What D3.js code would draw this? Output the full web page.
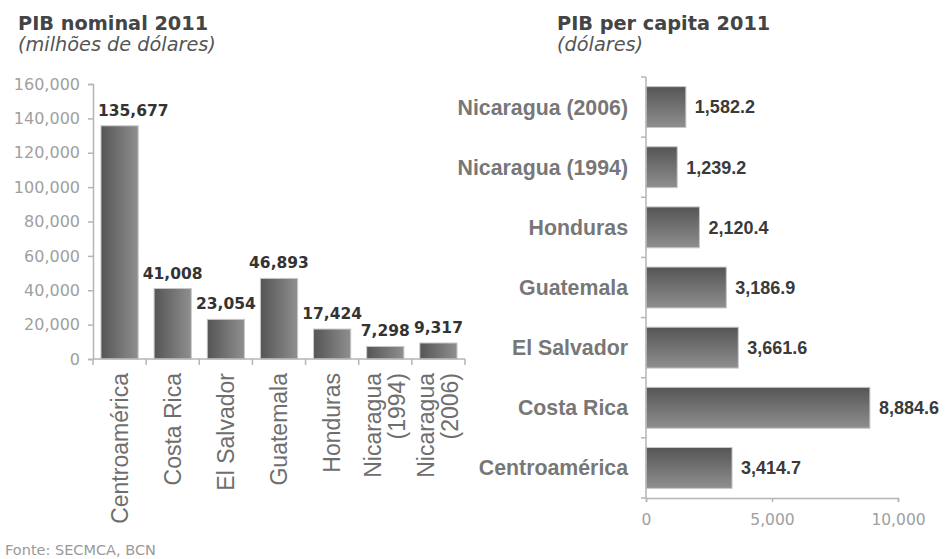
<!DOCTYPE html>
<html><head><meta charset="utf-8">
<script src="https://cdn.jsdelivr.net/npm/d3@7"></script>
<style>body{margin:0;background:#fff}svg{display:block}</style>
</head><body>
<svg id="c" width="950" height="559"></svg>
<script>
const categories = ["Centroamérica","Costa Rica","El Salvador","Guatemala","Honduras","Nicaragua (1994)","Nicaragua (2006)"];
const gdpNominal = [135677, 41008, 23054, 46893, 17424, 7298, 9317];
const gdpPerCapita = [3414.7, 8884.6, 3661.6, 3186.9, 2120.4, 1239.2, 1582.2];
const leftTicks = [0,20000,40000,60000,80000,100000,120000,140000,160000];
const rightTicks = [0,5000,10000];
const leftTitle = "PIB nominal 2011", leftSub = "(milhões de dólares)";
const rightTitle = "PIB per capita 2011", rightSub = "(dólares)";
const source = "Fonte: SECMCA, BCN";

const svg = d3.select("#c");
const defs = svg.append("defs");
const gH = defs.append("linearGradient").attr("id","gh").attr("x1","0").attr("x2","1").attr("y1","0").attr("y2","0");
gH.append("stop").attr("offset","0").attr("stop-color","#555");
gH.append("stop").attr("offset","1").attr("stop-color","#8f8f91");
const gV = defs.append("linearGradient").attr("id","gv").attr("x1","0").attr("x2","0").attr("y1","0").attr("y2","1");
gV.append("stop").attr("offset","0").attr("stop-color","#555");
gV.append("stop").attr("offset","1").attr("stop-color","#8f8f91");

const axisCol = "#b5b5b5";
const sans = "'DejaVu Sans', Verdana, sans-serif";
const arial = "'Liberation Sans', Arial, sans-serif";

// Titles
function title(x, t, s){
  svg.append("text").attr("x",x).attr("y",30).text(t)
    .attr("font-family",sans).attr("font-weight","bold").attr("font-size",19.3).attr("fill","#444");
  svg.append("text").attr("x",x).attr("y",51).text(s)
    .attr("font-family",sans).attr("font-style","italic").attr("font-size",19.3).attr("fill","#555");
}
title(18, leftTitle, leftSub);
title(557, rightTitle, rightSub);

// ---- Left chart ----
const L = {x0:93, x1:465, y0:359, y1:84};
const xL = d3.scaleBand().domain(categories).range([L.x0, L.x1]).paddingInner(0.3).paddingOuter(0.15);
const yL = d3.scaleLinear().domain([0,160000]).range([L.y0, L.y1]);

const gl = svg.append("g");
const yAx = gl.append("g").attr("transform",`translate(${L.x0},0)`)
  .call(d3.axisLeft(yL).tickValues(leftTicks).tickFormat(d3.format(",")).tickSizeOuter(0).tickSize(5).tickPadding(8));
yAx.select(".domain").attr("stroke",axisCol).attr("stroke-width",1.5);
yAx.selectAll(".tick line").attr("stroke",axisCol).attr("stroke-width",1.5);
yAx.selectAll(".tick text").attr("font-family",sans).attr("font-size",16).attr("fill","#a0a0a0");

// bars
gl.selectAll("rect.b").data(categories).join("rect").attr("class","b")
  .attr("x",d=>xL(d)).attr("width",xL.bandwidth())
  .attr("y",(d,i)=>yL(gdpNominal[i])).attr("height",(d,i)=>L.y0-yL(gdpNominal[i]))
  .attr("fill","url(#gh)").attr("stroke","#c8c8c8").attr("stroke-width",1);

// x axis line + ticks at band boundaries
gl.append("line").attr("x1",L.x0).attr("x2",L.x1).attr("y1",L.y0).attr("y2",L.y0).attr("stroke",axisCol).attr("stroke-width",1.5);
const step = (L.x1-L.x0)/categories.length;
d3.range(categories.length+1).forEach(i=>{
  const x = L.x0 + i*step;
  gl.append("line").attr("x1",x).attr("x2",x).attr("y1",L.y0).attr("y2",L.y0+6).attr("stroke",axisCol).attr("stroke-width",1.5);
});

// value labels
const fmtInt = d3.format(",");
gl.selectAll("text.v").data(categories).join("text").attr("class","v")
  .attr("font-family",sans).attr("font-weight","bold").attr("font-size",15.5).attr("fill","#333")
  .attr("text-anchor","middle")
  .attr("y",(d,i)=>yL(gdpNominal[i])-10)
  .text((d,i)=>fmtInt(gdpNominal[i]))
  .each(function(d){
    const w = this.getComputedTextLength();
    const cx = xL(d)+xL.bandwidth()/2;
    d3.select(this).attr("x", Math.max(cx, L.x0+5+w/2));
  });

// category labels rotated
categories.forEach(c=>{
  const m = c.match(/^(.*) (\(.*\))$/);
  const lines = m ? [m[1], m[2]] : [c];
  const cx = xL(c)+xL.bandwidth()/2;
  const t = gl.append("text").attr("transform",`translate(${cx},373) rotate(-90)`)
    .attr("text-anchor","end").attr("font-family",arial).attr("font-size",23).attr("fill","#6e6e6e");
  lines.forEach((ln,j)=>{
    t.append("tspan").attr("x",0).attr("y",(j-(lines.length-1)/2)*24).attr("dy","0.35em").text(ln);
  });
});

// ---- Right chart ----
const R = {x0:646, x1:898, y0:77, y1:498};
const rev = categories.slice().reverse();
const yR = d3.scaleBand().domain(rev).range([R.y0, R.y1]).paddingInner(0.32).paddingOuter(0.16);
const xR = d3.scaleLinear().domain([0,10000]).range([R.x0, R.x1]);
const gr = svg.append("g");

gr.selectAll("rect.b").data(categories).join("rect").attr("class","b")
  .attr("x",R.x0).attr("y",d=>yR(d)).attr("height",yR.bandwidth())
  .attr("width",(d,i)=>xR(gdpPerCapita[i])-R.x0)
  .attr("fill","url(#gv)").attr("stroke","#c8c8c8").attr("stroke-width",1);

// y axis line + band ticks
gr.append("line").attr("x1",R.x0).attr("x2",R.x0).attr("y1",R.y0).attr("y2",R.y1).attr("stroke",axisCol).attr("stroke-width",1.5);
const stepR = (R.y1-R.y0)/rev.length;
d3.range(rev.length+1).forEach(i=>{
  const y = R.y0 + i*stepR;
  gr.append("line").attr("x1",R.x0-5).attr("x2",R.x0).attr("y1",y).attr("y2",y).attr("stroke",axisCol).attr("stroke-width",1.5);
});

const xAx = gr.append("g").attr("transform",`translate(0,${R.y1})`)
  .call(d3.axisBottom(xR).tickValues(rightTicks).tickFormat(d3.format(",")).tickSizeOuter(0).tickSize(4).tickPadding(12));
xAx.select(".domain").attr("stroke",axisCol).attr("stroke-width",1.5);
xAx.selectAll(".tick line").attr("stroke",axisCol).attr("stroke-width",1.5);
xAx.selectAll(".tick text").attr("font-family",sans).attr("font-size",15.5).attr("fill","#a0a0a0");

// category labels
gr.selectAll("text.c").data(categories).join("text").attr("class","c")
  .attr("x",R.x0-18).attr("y",d=>yR(d)+yR.bandwidth()/2).attr("dy","0.35em")
  .attr("text-anchor","end").attr("font-family",arial).attr("font-weight","bold").attr("font-size",21.3).attr("fill","#777")
  .text(d=>d);

// value labels
const fmt1 = d3.format(",.1f");
gr.selectAll("text.v").data(categories).join("text").attr("class","v")
  .attr("x",(d,i)=>xR(gdpPerCapita[i])+9).attr("y",d=>yR(d)+yR.bandwidth()/2).attr("dy","0.35em")
  .attr("font-family",arial).attr("font-weight","bold").attr("font-size",18).attr("fill","#3a3a3a")
  .text((d,i)=>fmt1(gdpPerCapita[i]));

// source
svg.append("text").attr("x",5).attr("y",555).text(source)
  .attr("font-family",sans).attr("font-size",14.5).attr("fill","#999");
</script>
</body></html>
